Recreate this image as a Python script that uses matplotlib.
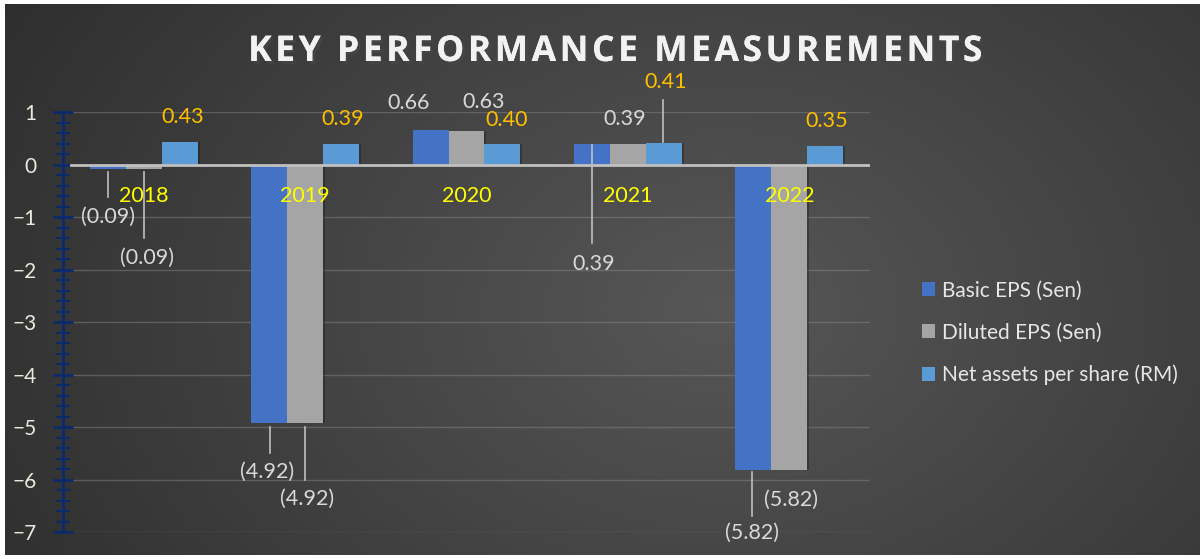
import numpy as np
import matplotlib.pyplot as plt
import matplotlib.patheffects as pe

plt.rcParams['font.family'] = ['Lato', 'DejaVu Sans']

# data
years = ["2018", "2019", "2020", "2021", "2022"]
basic_eps = [-0.09, -4.92, 0.66, 0.39, -5.82]
diluted_eps = [-0.09, -4.92, 0.63, 0.39, -5.82]
net_assets = [0.43, 0.39, 0.40, 0.41, 0.35]
series_names = ["Basic EPS (Sen)", "Diluted EPS (Sen)", "Net assets per share (RM)"]

basic_labels = ["(0.09)", "(4.92)", "0.66", "0.39", "(5.82)"]
diluted_labels = ["(0.09)", "(4.92)", "0.63", "0.39", "(5.82)"]
net_labels = ["0.43", "0.39", "0.40", "0.41", "0.35"]

fig = plt.figure(figsize=(12.03, 5.59), dpi=100)
fig.patch.set_facecolor("white")

# dark gradient background of the chart area
bg = fig.add_axes([5 / 1203, 4 / 559, 1195 / 1203, 551 / 559])
gx = np.linspace(0, 1, 300)
gy = np.linspace(0, 1, 150)
X, Y = np.meshgrid(gx, gy)
r = np.sqrt(((X - 0.6) / 0.75) ** 2 + ((Y - 0.55) / 1.2) ** 2)
shade = 0.34 - 0.17 * np.clip(r, 0, 1)
bg.imshow(np.dstack([shade, shade, shade]), aspect="auto", extent=[0, 1, 0, 1])
bg.axis("off")

ax = fig.add_axes([63 / 1203, 27 / 559, 807 / 1203, 420 / 559])
ax.patch.set_alpha(0)

x = np.arange(len(years))
w = 0.223
cols = ["#4472c4", "#a5a5a5", "#5b9bd5"]
for i, (vals, c) in enumerate(zip([basic_eps, diluted_eps, net_assets], cols)):
    xs = x + (i - 1) * w
    # soft shadow
    ax.bar(xs + 0.012, vals, w, color="black", alpha=0.25, zorder=2)
    ax.bar(xs, vals, w, color=c, label=series_names[i], zorder=3)

ax.set_xlim(-0.5, 4.5)
ax.set_ylim(-7, 1)
ax.set_yticks(range(-7, 2))
ax.set_yticks(np.arange(-7, 1.01, 0.2), minor=True)
ax.set_xticks([])
for s in ["top", "right", "bottom"]:
    ax.spines[s].set_visible(False)
ax.spines["left"].set_color("#0b2a6b")
ax.spines["left"].set_linewidth(2)
ax.tick_params(axis="y", which="major", direction="inout", length=14, width=2,
               color="#0b2a6b", labelcolor="#e4ecdc", labelsize=15, pad=12)
ax.tick_params(axis="y", which="minor", direction="inout", length=10, width=1.5,
               color="#0b2a6b")
for t in range(-7, 2):
    if t != 0:
        ax.axhline(t, xmin=0.01, color="#8a8a8a", lw=1, alpha=0.45, zorder=1)
ax.axhline(0, xmin=0.01, color="#c0c0c0", lw=2, zorder=4)

# year labels
for xi, yr in zip(x, years):
    ax.text(xi, -0.6, yr, color="#ffff00", fontsize=15.5, ha="center", va="center", zorder=6)

def px(xp):
    return (xp - 143.7) / 161.4

def py(yp):
    return (164 - yp) / 52.5

gray = "#d9d9d9"
orange = "#ffc000"
# (text, label x px, label y px, leader line x px, line y0 px, line y1 px)
label_spots = [
    (basic_labels[0], 108, 216, 108, 171, 196, gray),
    (diluted_labels[0], 147, 257, 144, 171, 237, gray),
    (net_labels[0], 183, 116, None, 0, 0, orange),
    (basic_labels[1], 267, 471, 270, 426, 452, gray),
    (diluted_labels[1], 307, 498, 305, 426, 479, gray),
    (net_labels[1], 343, 118, None, 0, 0, orange),
    (basic_labels[2], 409, 102, None, 0, 0, gray),
    (diluted_labels[2], 484, 101, None, 0, 0, gray),
    (net_labels[2], 507, 119, None, 0, 0, orange),
    (basic_labels[3], 594, 263, 592, 144, 242, gray),
    (diluted_labels[3], 625, 118, None, 0, 0, gray),
    (net_labels[3], 666, 81, 663, 99, 141, orange),
    (basic_labels[4], 752, 532, 752, 471, 515, gray),
    (diluted_labels[4], 791, 499, None, 0, 0, gray),
    (net_labels[4], 827, 120, None, 0, 0, orange),
]
for txt, lx, ly, linex, y0, y1, c in label_spots:
    ax.text(px(lx), py(ly), txt, color=c, fontsize=15.5, ha="center", va="center", zorder=6)
    if linex is not None:
        ax.plot([px(linex), px(linex)], [py(y0), py(y1)], color="#bfbfbf", lw=1.2,
                zorder=5, clip_on=False)

# legend
leg = fig.legend(loc="upper left", bbox_to_anchor=(903 / 1203, 1 - 262 / 559),
                 frameon=False, fontsize=15, labelcolor="#e6e6e6", handlelength=0.65,
                 handleheight=0.65, handletextpad=0.3, labelspacing=1.05)

# title, with a little letter spacing
title = "\u200a".join("KEY PERFORMANCE MEASUREMENTS")
fig.text(0.510, 1 - 52 / 559, title,
         family=["Open Sans", "DejaVu Sans"], color="#f2f2f2", fontsize=25.5, fontweight="bold",
         ha="center", va="center",
         path_effects=[pe.withSimplePatchShadow(offset=(2, -2), alpha=0.6), pe.Normal()])

fig.savefig("out.png", dpi=100, facecolor=fig.get_facecolor())
